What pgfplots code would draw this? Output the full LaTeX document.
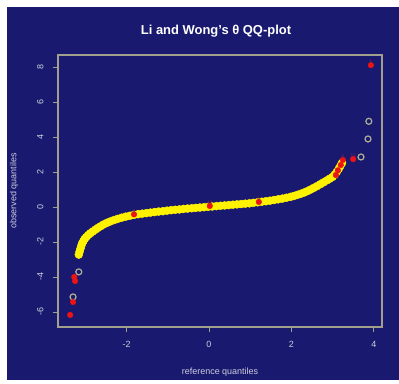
\documentclass[border=0pt]{standalone}
\usepackage{pgfplots}
\pgfplotsset{compat=1.18}
\usepackage{fontspec}
\setmainfont{Liberation Sans}
\definecolor{bgnavy}{RGB}{25,25,112}
\definecolor{boxgray}{RGB}{160,160,140}
\definecolor{labgray}{RGB}{205,205,220}
\definecolor{ptred}{RGB}{235,20,20}
\definecolor{idred}{RGB}{150,30,70}
\definecolor{ringgray}{RGB}{175,175,150}

\begin{document}
\begin{tikzpicture}[x=1bp,y=1bp]
\fill[white] (0,0) rectangle (399,384);
\fill[bgnavy] (7,4) rectangle (399,377);
\node[text=white,font=\bfseries\fontsize{13}{15}\selectfont] at (216,353) {Li and Wong's θ QQ-plot};
\begin{axis}[
  at={(58bp,57bp)}, anchor=south west,
  scale only axis, width=324bp, height=272bp,
  xmin=-3.665, xmax=4.2, ymin=-6.86, ymax=8.69,
  xtick={-2,0,2,4}, ytick={-6,-4,...,8},
  xtick pos=bottom, ytick pos=left,
  tick align=outside, major tick length=5bp,
  tick style={boxgray, line width=0.8bp},
  axis line style={boxgray, line width=1.2bp},
  /pgf/number format/assume math mode=true,
  ticklabel style={text=labgray, font=\fontsize{9}{10}\selectfont},
  yticklabel style={rotate=90, anchor=south, yshift=6bp},
  xticklabel style={yshift=-6bp},
  xlabel={reference quantiles}, ylabel={observed quantiles},
  label style={text=labgray, font=\fontsize{9}{10}\selectfont},
  xlabel style={yshift=-13bp},
  ylabel style={yshift=12bp},
  clip=false,
]
% bulk of the quantiles
\addplot[only marks, mark=*, mark size=4bp, mark options={fill=yellow, draw=yellow}] table {
-3.16 -2.72
-3.14 -2.55
-3.12 -2.38
-3.10 -2.22
-3.08 -2.08
-3.05 -1.95
-3.02 -1.83
-2.98 -1.72
-2.93 -1.60
-2.88 -1.50
-2.82 -1.40
-2.76 -1.30
-2.70 -1.20
-2.63 -1.10
-2.56 -1.00
-2.48 -0.91
-2.40 -0.83
-2.31 -0.75
-2.22 -0.68
-2.12 -0.61
-2.02 -0.55
-1.92 -0.50
-1.82 -0.45
-1.72 -0.41
-1.62 -0.38
-1.52 -0.35
-1.42 -0.32
-1.32 -0.29
-1.22 -0.26
-1.12 -0.24
-1.02 -0.21
-0.92 -0.18
-0.82 -0.16
-0.72 -0.14
-0.62 -0.11
-0.52 -0.09
-0.42 -0.07
-0.32 -0.05
-0.22 -0.03
-0.12 -0.01
-0.02 0.01
0.08 0.03
0.18 0.05
0.28 0.07
0.38 0.09
0.48 0.11
0.58 0.13
0.68 0.15
0.78 0.17
0.88 0.19
0.98 0.21
1.08 0.24
1.18 0.27
1.28 0.30
1.38 0.33
1.48 0.36
1.58 0.40
1.68 0.44
1.78 0.48
1.88 0.53
1.98 0.58
2.06 0.63
2.14 0.69
2.22 0.75
2.30 0.82
2.38 0.90
2.46 0.99
2.54 1.09
2.62 1.19
2.70 1.30
2.78 1.41
2.86 1.52
2.93 1.62
3.00 1.72
3.05 1.85
3.10 2.00
3.15 2.18
3.19 2.35
3.23 2.52
};
% isolated extreme quantiles
\addplot[only marks, mark=o, mark size=3bp, mark options={draw=ringgray, line width=1.2bp}] table {
3.88 4.90
3.86 3.89
3.69 2.86
-3.16 -3.71
-3.30 -5.14
};
% flagged observations with their ids
\addplot[only marks, mark=*, mark size=2.8bp, mark options={fill=ptred, draw=ptred},
  point meta=explicit symbolic, nodes near coords,
  nodes near coords style={text=idred, font=\fontsize{5}{5}\selectfont, anchor=south, inner sep=1bp}]
 table[meta=id] {
x y id
3.93 8.11 1
3.50 2.74 11
3.25 2.69 8
3.20 2.40 {}
3.13 2.10 {}
3.08 1.83 {}
1.21 0.29 6
0.02 0.06 10
-1.82 -0.42 5
-3.25 -4.23 {}
-3.27 -4.00 {}
-3.30 -5.43 {}
-3.37 -6.17 {}
};
\end{axis}
\end{tikzpicture}
\end{document}
